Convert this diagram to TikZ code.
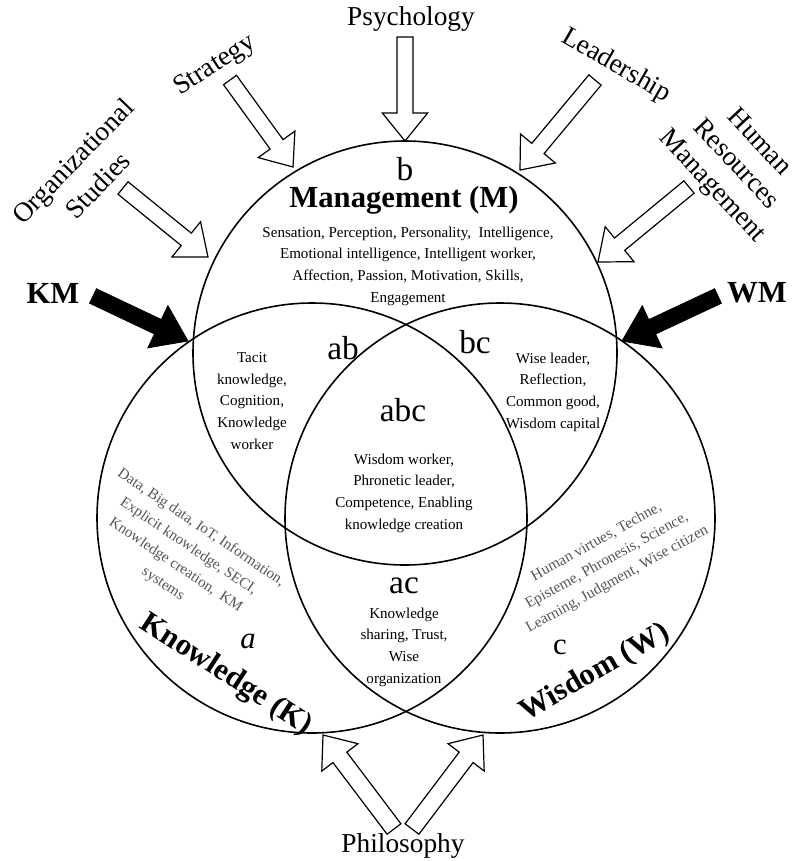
\documentclass[tikz,border=0pt]{standalone}
\usepackage{fontspec}
\setmainfont{Liberation Serif}
\usetikzlibrary{calc}
\definecolor{graytext}{HTML}{555555}
\tikzset{
  circ/.style={draw=black, line width=1.2pt},
  harrow/.style={draw=black, line width=0.9pt, fill=white, line join=miter},
  farrow/.style={draw=black, line width=0.6pt, fill=black},
  field/.style={font=\fontsize{20.5}{24}\selectfont, align=center, inner sep=0pt},
  title/.style={font=\bfseries\fontsize{23}{26}\selectfont, inner sep=0pt},
  region/.style={font=\fontsize{25}{28}\selectfont, inner sep=0pt},
  small/.style={font=\fontsize{11.3}{16.3}\selectfont, align=center, inner sep=0pt},
  gsmall/.style={small, text=graytext},
}
\newcommand\hollowarrow[6]{%
  \path ($(#3)!#6!(#2)$) coordinate (hH);
  \draw[#1] (#3) -- ($(hH)!#5!90:(#3)$) -- ($(hH)!#4!90:(#3)$)
    -- ($(#2)!#4!90:(#3)$) -- ($(#2)!#4!-90:(#3)$)
    -- ($(hH)!#4!-90:(#3)$) -- ($(hH)!#5!-90:(#3)$) -- cycle;
}
\begin{document}
\begin{tikzpicture}[x=0.75pt, y=-0.75pt]
\useasboundingbox (0,0) rectangle (794,861);

% circles
\coordinate (cM) at (405,353);
\coordinate (cK) at (312,518);
\coordinate (cW) at (500,518);
\draw[circ] (cM) circle (212);
\draw[circ] (cK) circle (215);
\draw[circ] (cW) circle (215);

% field labels
\node[field] (psy) at (411,19) {Psychology};
\node[field, rotate=33] (str) at (215,66) {Strategy};
\node[field, rotate=46, font=\fontsize{20.5}{26}\selectfont] (org) at (85,173) {Organizational\\Studies};
\node[field, rotate=-30] (lead) at (616,66) {Leadership};
\node[field, rotate=-47] (hrm) at (735,165) {Human\\Resources\\Management};
\node[field] (phil) at (403,846) {Philosophy};

% hollow arrows
\coordinate (psyB) at (405,37);   \coordinate (psyT) at (405,141);
\coordinate (strB) at (230,80);   \coordinate (strT) at (293,167);
\coordinate (orgB) at (123,188);  \coordinate (orgT) at (208,257);
\coordinate (leadB) at (595,80);  \coordinate (leadT) at (520,170);
\coordinate (hrmB) at (689,187);  \coordinate (hrmT) at (598,262);
\coordinate (phKB) at (394,829);  \coordinate (phKT) at (323,735);
\coordinate (phWB) at (412,829);  \coordinate (phWT) at (483,735);
\hollowarrow{harrow}{psyB}{psyT}{6pt}{17pt}{21pt}
\hollowarrow{harrow}{strB}{strT}{6pt}{17pt}{21pt}
\hollowarrow{harrow}{orgB}{orgT}{6pt}{17pt}{21pt}
\hollowarrow{harrow}{leadB}{leadT}{6pt}{17pt}{21pt}
\hollowarrow{harrow}{hrmB}{hrmT}{6pt}{17pt}{21pt}
\hollowarrow{harrow}{phKB}{phKT}{6.5pt}{17pt}{21pt}
\hollowarrow{harrow}{phWB}{phWT}{6.5pt}{17pt}{21pt}

% KM / WM
\node[title] (km) at (53,293) {KM};
\node[title] (wm) at (757,293) {WM};
\coordinate (kmB) at (93,296);  \coordinate (kmT) at (188,341);
\coordinate (wmB) at (718,296); \coordinate (wmT) at (622,341);
\hollowarrow{farrow}{kmB}{kmT}{6pt}{17.5pt}{25pt}
\hollowarrow{farrow}{wmB}{wmT}{6pt}{17.5pt}{25pt}

% Management circle
\node[region] (lb) at (405,169) {b};
\node[title] (mgmt) at (404,200) {Management (M)};
\node[small] (mtext) at (408,266) {Sensation, Perception, Personality,\ \ Intelligence,\\Emotional intelligence, Intelligent worker,\\Affection, Passion, Motivation, Skills,\\Engagement};

% intersections
\node[region] (lab) at (343,348) {ab};
\node[small] (abtext) at (252,401) {Tacit\\knowledge,\\Cognition,\\Knowledge\\worker};
\node[region] (lbc) at (475,342) {bc};
\node[small] (bctext) at (553,392) {Wise leader,\\Reflection,\\Common good,\\Wisdom capital};
\node[region] (labc) at (403,410) {abc};
\node[small] (abctext) at (404,493) {Wisdom worker,\\Phronetic leader,\\Competence, Enabling\\knowledge creation};
\node[region] (lac) at (404,586) {ac};
\node[small] (actext) at (404,647) {Knowledge\\sharing, Trust,\\Wise\\organization};

% Knowledge circle
\node[gsmall, rotate=-34, font=\fontsize{11.3}{17}\selectfont] (ktext) at (182,556) {Data, Big data, IoT, Information,\\Explicit knowledge, SECI,\\Knowledge creation,\ \ KM\\systems};
\node[region, font=\itshape\fontsize{23}{26}\selectfont] (la) at (248,641) {a};
\node[title, rotate=-33] (know) at (226,675) {Knowledge (K)};

% Wisdom circle
\node[gsmall, rotate=29, font=\fontsize{11.5}{16}\selectfont] (wtext) at (607,561) {Human virtues, Techne,\\Episteme, Phronesis, Science,\\Learning, Judgment, Wise citizen};
\node[region, font=\fontsize{23}{26}\selectfont] (lc) at (560,647) {c};
\node[title, rotate=30] (wis) at (595,673) {Wisdom (W)};
\end{tikzpicture}
\end{document}
